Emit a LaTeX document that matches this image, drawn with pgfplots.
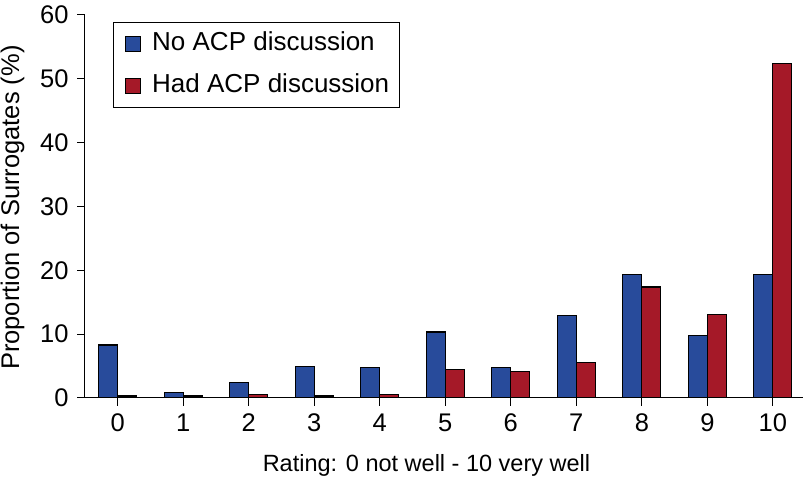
\documentclass[border=0pt]{standalone}
\usepackage{fontspec}
\setmainfont{Liberation Sans}
\usepackage{pgfplots}
\pgfplotsset{compat=1.18}
\definecolor{noacp}{RGB}{40,75,155}
\definecolor{hadacp}{RGB}{165,25,40}
\begin{document}
\begin{tikzpicture}
\begin{axis}[
  name=ax,
  scale only axis, width=718pt, height=383pt,
  xmin=-0.5, xmax=10.46, ymin=0, ymax=60,
  enlargelimits=false,
  axis lines=left, axis line style={-, line width=1pt},
  xtick={0,...,10}, ytick={0,10,...,60},
  tick align=outside, major tick length=8pt,
  tick style={black, line width=1pt},
  /pgf/number format/assume math mode=true,
  ticklabel style={font=\fontsize{25.5}{29}\selectfont},
  xticklabel style={yshift=-4pt},
  yticklabel style={xshift=-5pt},
  xlabel={Rating: 0 not well - 10 very well},
  xlabel style={font=\fontsize{23.5}{27}\selectfont, at={(axis description cs:0.4756,-0.1915)}, anchor=base},
  ylabel={Proportion of Surrogates (\%)},
  ylabel style={font=\fontsize{25.5}{29}\selectfont, at={(axis description cs:-0.101,0.497)}, anchor=center, rotate=0},
  bar width=0.29,
  legend cell align=left,
  legend style={at={(0.0386,0.981)}, anchor=north west, draw=black, line width=1pt,
    font=\fontsize{26}{30}\selectfont, row sep=17pt, inner sep=9pt,
    nodes={inner sep=1pt, text height=18pt, text depth=5pt}},
  legend image code/.code={\draw[#1, line width=1pt] (3pt,-7.5pt) rectangle (18pt,7.5pt); \path[draw=none, fill=none] (0pt,0pt) -- (29pt,0pt);},
]
\addplot[ybar, fill=noacp, draw=black, line width=1.2pt, bar shift=-0.145] coordinates {
(0,8.3) (1,0.85) (2,2.4) (3,4.9) (4,4.8) (5,10.35) (6,4.8) (7,12.9) (8,19.4) (9,9.8) (10,19.35)};
\addlegendentry{No ACP discussion}
\addplot[ybar, fill=hadacp, draw=black, line width=1.2pt, bar shift=0.145] coordinates {
(0,0.3) (1,0.3) (2,0.6) (3,0.3) (4,0.5) (5,4.5) (6,4.2) (7,5.6) (8,17.4) (9,13.1) (10,52.4)};
\addlegendentry{Had ACP discussion}
\end{axis}
\pgfresetboundingbox
\useasboundingbox ([shift={(-85pt,-80.3pt)}]ax.south west) rectangle ([shift={(3pt,15pt)}]ax.north east);
\end{tikzpicture}
\end{document}
